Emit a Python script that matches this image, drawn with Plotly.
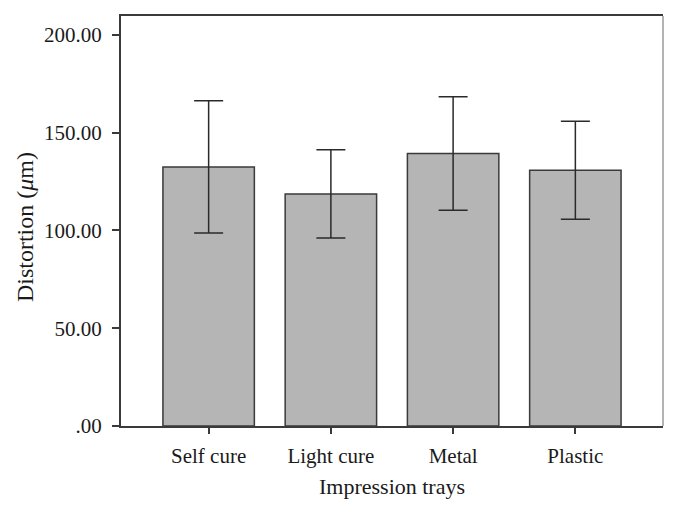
import plotly.graph_objects as go

categories = ["Self cure", "Light cure", "Metal", "Plastic"]
means = [132.5, 118.7, 139.4, 130.8]
errors = [33.8, 22.6, 29.0, 25.1]
ytick_vals = [0, 50, 100, 150, 200]
ytick_text = [".00", "50.00", "100.00", "150.00", "200.00"]

font_family = "Liberation Serif, DejaVu Serif, serif"
dark = "#3a3a3a"

fig = go.Figure()
fig.add_trace(go.Bar(
    x=list(range(len(categories))),
    y=means,
    width=0.748,
    marker=dict(color="#b5b5b5", line=dict(color=dark, width=1.5)),
    error_y=dict(type="data", array=errors, visible=True, color="#2a2a2a", thickness=1.5, width=14.5),
))

fig.update_layout(
    width=662, height=498,
    margin=dict(l=113, r=7, t=6, b=80),
    plot_bgcolor="white", paper_bgcolor="white",
    font=dict(family=font_family, size=21, color="#1a1a1a"),
    showlegend=False,
    xaxis=dict(
        range=[-0.717, 3.717],
        tickvals=list(range(len(categories))),
        ticktext=categories,
        ticks="outside", ticklen=6, tickcolor=dark, tickwidth=1.5,
        showline=True, linecolor=dark, linewidth=2, mirror=True,
        showgrid=False, zeroline=False,
        ticklabelstandoff=4,
        title=dict(text="Impression trays", font=dict(size=22), standoff=11),
        tickfont=dict(size=21),
    ),
    yaxis=dict(
        range=[0, 209.7],
        tickvals=ytick_vals,
        ticktext=ytick_text,
        ticks="outside", ticklen=7, tickcolor=dark, tickwidth=1.5,
        showline=True, linecolor=dark, linewidth=2,
        showgrid=False, zeroline=False,
        ticklabelstandoff=6,
        tickfont=dict(size=21),
    ),
)
fig.add_annotation(text="Distortion (<i>μ</i>m)", textangle=-90,
                   xref="paper", yref="paper", x=-0.177, y=0.4854,
                   xanchor="center", yanchor="middle", showarrow=False,
                   font=dict(size=24, family=font_family, color="#1a1a1a"))
fig.add_shape(type="line", xref="paper", yref="paper", x0=1, x1=1, y0=0, y1=1,
              line=dict(color="#9a9a9a", width=1.5))

fig.write_html("out.html")
